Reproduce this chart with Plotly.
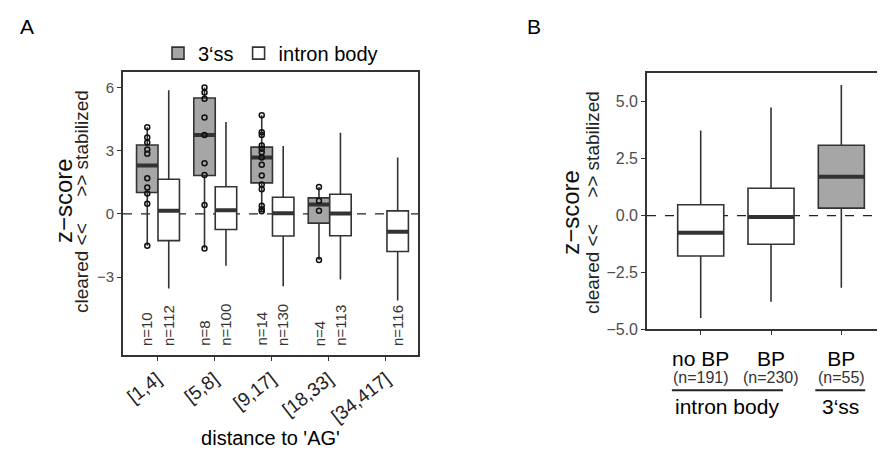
import plotly.graph_objects as go

# ---------------- Panel A data ----------------
cats_A = ["[1,4]", "[5,8]", "[9,17]", "[18,33]", "[34,417]"]

# 3'ss boxes (first four distance bins)
ss_idx = [0, 1, 2, 3]
ss_q1 = [1.01, 1.82, 1.47, -0.44]
ss_med = [2.29, 3.74, 2.67, 0.44]
ss_q3 = [3.27, 5.50, 3.17, 0.76]
ss_lo = [-1.51, -1.65, 0.12, -2.19]
ss_hi = [4.11, 6.00, 4.68, 1.28]
ss_n = ["n=10", "n=8", "n=14", "n=4"]

# individual 3'ss values (points)
ss_points = [
    [4.11, 3.63, 3.39, 3.06, 2.85, 1.69, 1.25, 0.97, 0.48, -1.51],
    [6.00, 5.76, 5.46, 4.57, 3.74, 2.40, 1.84, 0.42, -1.65],
    [4.68, 3.87, 3.74, 3.25, 3.09, 2.92, 2.67, 2.33, 1.82, 1.39, 1.17, 0.39, 0.22, 0.12],
    [1.28, 0.62, 0.15, -2.19],
]

# intron body boxes (all five bins)
ib_idx = [0, 1, 2, 3, 4]
ib_q1 = [-1.27, -0.74, -1.05, -1.04, -1.79]
ib_med = [0.15, 0.17, 0.03, 0.02, -0.85]
ib_q3 = [1.64, 1.29, 0.79, 0.93, 0.14]
ib_lo = [-3.55, -2.47, -3.44, -3.12, -4.12]
ib_hi = [5.87, 4.36, 3.22, 3.85, 2.68]
ib_n = ["n=112", "n=100", "n=130", "n=113", "n=116"]

# ---------------- Panel B data ----------------
cats_B = ["no BP", "BP", "BP"]
n_B = ["(n=191)", "(n=230)", "(n=55)"]
groups_B = ["intron body", "3‘ss"]
B_q1 = [-1.77, -1.26, 0.33]
B_med = [-0.75, -0.06, 1.71]
B_q3 = [0.48, 1.20, 3.09]
B_lo = [-4.50, -3.78, -3.17]
B_hi = [3.74, 4.75, 5.74]

# ---------------- style ----------------
FONT = "Liberation Sans, Arial, sans-serif"
LINE = "#333333"
GRAY = "#a6a6a6"
W_A = 0.375
OFF_SS = -0.17
OFF_IB = 0.205
W_B = 0.655

fig = go.Figure()

def median_segments(xs, meds, w):
    X, Y = [], []
    for x, m in zip(xs, meds):
        X += [x - w / 2, x + w / 2, None]
        Y += [m, m, None]
    return X, Y

# Panel A boxes
x_ss = [i + OFF_SS for i in ss_idx]
x_ib = [i + OFF_IB for i in ib_idx]

fig.add_trace(go.Box(
    name="3‘ss", x=x_ss, q1=ss_q1, median=ss_med, q3=ss_q3,
    lowerfence=ss_lo, upperfence=ss_hi, width=W_A, whiskerwidth=0,
    fillcolor=GRAY, line=dict(color=LINE, width=1.6), boxpoints=False,
    xaxis="x", yaxis="y", legendrank=1, hoverinfo="skip"))
fig.add_trace(go.Box(
    name="intron body", x=x_ib, q1=ib_q1, median=ib_med, q3=ib_q3,
    lowerfence=ib_lo, upperfence=ib_hi, width=W_A, whiskerwidth=0,
    fillcolor="white", line=dict(color=LINE, width=1.6), boxpoints=False,
    xaxis="x", yaxis="y", legendrank=2, hoverinfo="skip"))

mx, my = median_segments(x_ss + x_ib, ss_med + ib_med, W_A)
fig.add_trace(go.Scatter(x=mx, y=my, mode="lines", line=dict(color=LINE, width=4),
                         showlegend=False, xaxis="x", yaxis="y", hoverinfo="skip"))

px, py = [], []
for x, pts in zip(x_ss, ss_points):
    px += [x] * len(pts)
    py += pts
fig.add_trace(go.Scatter(x=px, y=py, mode="markers",
                         marker=dict(symbol="circle-open", size=5, color="#111111",
                                     line=dict(width=1.5, color="#111111")),
                         showlegend=False, xaxis="x", yaxis="y", hoverinfo="skip"))

# Panel B boxes
xb = list(range(len(cats_B)))
fig.add_trace(go.Box(
    name="intron body", x=xb[:2], q1=B_q1[:2], median=B_med[:2], q3=B_q3[:2],
    lowerfence=B_lo[:2], upperfence=B_hi[:2], width=W_B, whiskerwidth=0,
    fillcolor="white", line=dict(color=LINE, width=1.6), boxpoints=False,
    showlegend=False, xaxis="x2", yaxis="y2", hoverinfo="skip"))
fig.add_trace(go.Box(
    name="3‘ss", x=xb[2:], q1=B_q1[2:], median=B_med[2:], q3=B_q3[2:],
    lowerfence=B_lo[2:], upperfence=B_hi[2:], width=W_B, whiskerwidth=0,
    fillcolor=GRAY, line=dict(color=LINE, width=1.6), boxpoints=False,
    showlegend=False, xaxis="x2", yaxis="y2", hoverinfo="skip"))
mx2, my2 = median_segments(xb, B_med, W_B)
fig.add_trace(go.Scatter(x=mx2, y=my2, mode="lines", line=dict(color=LINE, width=4),
                         showlegend=False, xaxis="x2", yaxis="y2", hoverinfo="skip"))

# ---------------- layout ----------------
W, H = 885, 451
def dx(p): return p / W
def dy(p): return 1 - p / H

axis_common = dict(showline=True, linecolor=LINE, linewidth=1.6, ticks="outside",
                   ticklen=4, tickcolor=LINE, tickwidth=1.2, showgrid=False,
                   zeroline=False)

fig.update_layout(
    width=W, height=H, margin=dict(l=0, r=0, t=0, b=0),
    paper_bgcolor="white", plot_bgcolor="white",
    font=dict(family=FONT, color="#000000"),
    boxmode="overlay",
    showlegend=True,
    legend=dict(orientation="h", x=dx(150), y=dy(46), xanchor="left", yanchor="middle",
                font=dict(size=20, color="#000000"), bgcolor="rgba(0,0,0,0)",
                traceorder="normal"),
    xaxis=dict(domain=[dx(115), dx(410)], range=[-0.594, 4.56], mirror=True,
               tickvals=list(range(len(cats_A))), ticktext=cats_A, tickangle=-38,
               tickfont=dict(size=19, color="#222222"),
               title=dict(text="distance to 'AG'", font=dict(size=20), standoff=4),
               anchor="y", **axis_common),
    yaxis=dict(domain=[dy(354), dy(65)], range=[-6.7, 6.75], mirror=True,
               tickvals=[-3, 0, 3, 6], ticktext=["−3", "0", "3", "6"],
               tickfont=dict(size=15, color="#4d4d4d"),
               anchor="x", **axis_common),
    xaxis2=dict(domain=[dx(639), 1.0], range=[-0.764, 2.735], mirror=True,
                tickvals=xb, ticktext=cats_B,
                tickfont=dict(size=21, color="#000000"), ticklabelstandoff=6,
                anchor="y2", **axis_common),
    yaxis2=dict(domain=[dy(328), dy(66)], range=[-5.0, 6.28], mirror=False,
                tickvals=[-5, -2.5, 0, 2.5, 5], ticktext=["−5.0", "−2.5", "0.0", "2.5", "5.0"],
                tickfont=dict(size=16, color="#4d4d4d"),
                anchor="x2", **axis_common),
)

# y-axis titles (two lines each)
sub = "cleared &lt;&lt;" + "\u00a0" * 5 + "&gt;&gt; stabilized"
for xz, xc, yz, yc in [(55, 73, 197, 198), (563, 584, 209, 199)]:
    fig.add_annotation(x=dx(xz), y=dy(yz), xref="paper", yref="paper", text="z−score",
                       textangle=-90, showarrow=False, xanchor="center", yanchor="middle",
                       font=dict(size=24, color="#111111"))
    fig.add_annotation(x=dx(xc), y=dy(yc), xref="paper", yref="paper", text=sub,
                       textangle=-90, showarrow=False, xanchor="center", yanchor="middle",
                       font=dict(size=19, color="#222222"))

# dashed zero lines
for xr in ["x", "x2"]:
    yr = "y" if xr == "x" else "y2"
    fig.add_shape(type="line", xref=f"{xr} domain", yref=yr, x0=0, x1=1, y0=0, y1=0,
                  line=dict(color="#222222", width=1.3, dash="dash"), layer="below")

# n labels for panel A
for x, t in list(zip(x_ss, ss_n)) + list(zip(x_ib, ib_n)):
    fig.add_annotation(x=x, xref="x", y=0.025, yref="y domain", text=t, textangle=-90,
                       showarrow=False, yanchor="bottom", xanchor="center",
                       font=dict(size=15, color="#333333"))

# n labels for panel B
for x, t in zip(xb, n_B):
    fig.add_annotation(x=x, xref="x2", y=dy(377), yref="paper", text=t,
                       showarrow=False, xanchor="center", yanchor="middle",
                       font=dict(size=16, color="#333333"))

# group brackets panel B
brackets = [(-0.41, 1.17, groups_B[0]), (1.63, 2.34, groups_B[1])]
for x0, x1, lab in brackets:
    fig.add_shape(type="line", xref="x2", yref="paper", x0=x0, x1=x1,
                  y0=dy(390), y1=dy(390), line=dict(color="#222222", width=2))
    fig.add_annotation(x=(x0 + x1) / 2, xref="x2", y=dy(407), yref="paper", text=lab,
                       showarrow=False, font=dict(size=21, color="#000000"),
                       xanchor="center", yanchor="middle")

# panel letters
fig.add_annotation(x=dx(10), y=dy(19), xref="paper", yref="paper", text="A",
                   showarrow=False, xanchor="left", yanchor="middle",
                   font=dict(size=21, color="#000000"))
fig.add_annotation(x=dx(517), y=dy(19), xref="paper", yref="paper", text="B",
                   showarrow=False, xanchor="left", yanchor="middle",
                   font=dict(size=21, color="#000000"))

fig.write_html("out.html")
